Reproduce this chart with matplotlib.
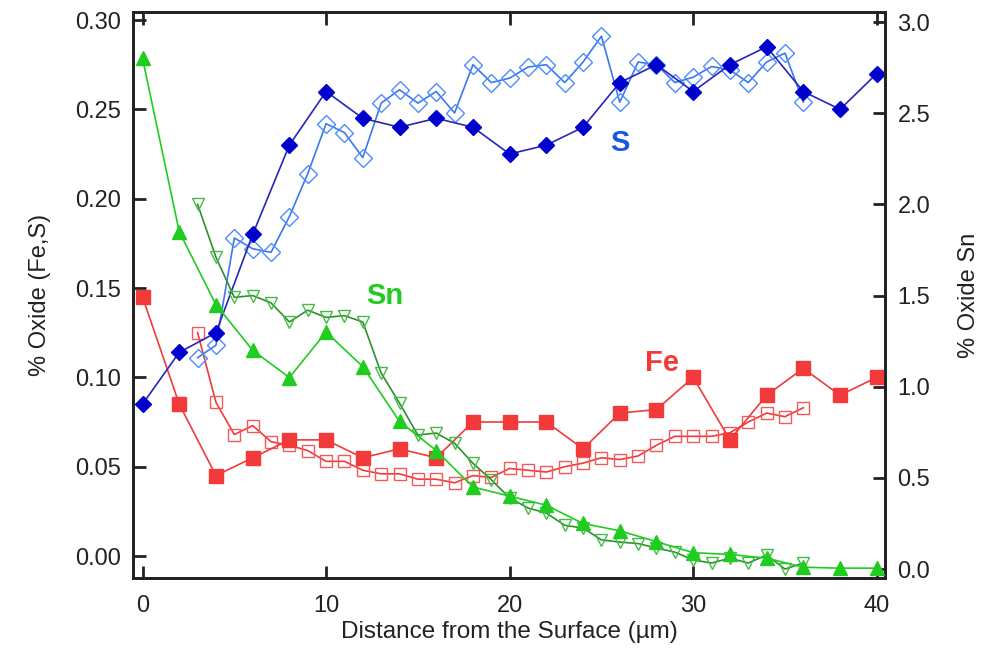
import matplotlib
matplotlib.use("Agg")
import matplotlib.pyplot as plt

plt.rcParams['font.family'] = ['Liberation Sans', 'DejaVu Sans']

# ---- data ----
x_even = [0, 2, 4, 6, 8, 10, 12, 14, 16, 18, 20, 22, 24, 26, 28, 30, 32, 34, 36, 38, 40]
x_fine = list(range(3, 37))

fe_filled = [0.145, 0.085, 0.045, 0.055, 0.065, 0.065, 0.055, 0.060, 0.055, 0.075, 0.075,
             0.075, 0.060, 0.080, 0.082, 0.100, 0.065, 0.090, 0.105, 0.090, 0.100]
s_filled = [0.085, 0.114, 0.125, 0.180, 0.230, 0.260, 0.245, 0.240, 0.245, 0.240, 0.225,
            0.230, 0.240, 0.265, 0.275, 0.260, 0.275, 0.285, 0.260, 0.250, 0.270]
sn_filled = [2.80, 1.85, 1.45, 1.20, 1.05, 1.30, 1.11, 0.81, 0.65, 0.45, 0.40,
             0.35, 0.25, 0.21, 0.15, 0.09, 0.08, 0.06, 0.01, 0.005, 0.005]

fe_open = [0.125, 0.086, 0.068, 0.073, 0.064, 0.062, 0.059, 0.053, 0.053, 0.048, 0.046,
           0.046, 0.043, 0.043, 0.041, 0.045, 0.044, 0.049, 0.048, 0.047, 0.050, 0.052,
           0.055, 0.054, 0.056, 0.062, 0.067, 0.067, 0.067, 0.069, 0.075, 0.080, 0.078, 0.083]
s_open = [0.111, 0.118, 0.178, 0.172, 0.170, 0.190, 0.214, 0.242, 0.237, 0.223, 0.2535,
          0.261, 0.2535, 0.260, 0.248, 0.275, 0.265, 0.2675, 0.2737, 0.275, 0.265, 0.2765,
          0.291, 0.254, 0.2765, 0.275, 0.265, 0.268, 0.274, 0.272, 0.265, 0.2765, 0.2815, 0.254]
sn_open = [2.00, 1.71, 1.49, 1.50, 1.46, 1.355, 1.42, 1.38, 1.39, 1.355, 1.075,
           0.91, 0.735, 0.746, 0.69, 0.58, 0.49, 0.39, 0.335, 0.307, 0.24, 0.225,
           0.16, 0.148, 0.14, 0.115, 0.093, 0.05, 0.033, 0.06, 0.033, 0.077, 0.0, 0.033]

left_ticks = [0.00, 0.05, 0.10, 0.15, 0.20, 0.25, 0.30]
right_ticks = [0.0, 0.5, 1.0, 1.5, 2.0, 2.5, 3.0]
x_ticks = [0, 10, 20, 30, 40]

# ---- colours ----
fe_c = '#f23a3a'
fe_open_c = '#f25a5a'
s_c = '#0000cc'
s_line = '#2626b8'
s_open_c = '#4d8cff'
s_open_line = '#3a78f2'
sn_c = '#1fcc1f'
sn_open_c = '#44bb44'
sn_open_line = '#2e8f2e'
txt_c = '#222222'

fig = plt.figure(figsize=(9.96, 6.56), dpi=100)
ax = fig.add_axes([133/996, 1-578/656, (885-133)/996, (578-12)/656])
ax2 = ax.twinx()

lw = 1.2
ax.plot(x_fine, fe_open, color=fe_c, lw=lw, marker='s', ms=8, mfc='none', mec=fe_open_c, mew=1.0, zorder=3)
ax.plot(x_even, fe_filled, color=fe_c, lw=lw, marker='s', ms=9.5, mfc=fe_c, mec=fe_c, zorder=4)
ax.plot(x_fine, s_open, color=s_open_line, lw=lw, marker='D', ms=9, mfc='none', mec=s_open_c, mew=1.0, zorder=3)
ax.plot(x_even, s_filled, color=s_line, lw=lw, marker='D', ms=8.5, mfc=s_c, mec=s_c, zorder=4)

ax2.plot(x_fine, sn_open, color=sn_open_line, lw=lw, marker='v', ms=8.5, mfc='none', mec=sn_open_c, mew=1.0, zorder=3)
ax2.plot(x_even, sn_filled, color=sn_c, lw=lw, marker='^', ms=10, mfc=sn_c, mec=sn_c, zorder=4)

ax.set_xlim(-0.52, 40.45)
ax.set_ylim(-0.0123, 0.3045)
ax2.set_ylim(-0.049, 3.055)

ax.set_xticks(x_ticks)
ax.set_yticks(left_ticks)
ax.set_yticklabels([f"{v:.2f}" for v in left_ticks])
ax2.set_yticks(right_ticks)
ax2.set_yticklabels([f"{v:.1f}" for v in right_ticks])

ax.tick_params(axis='x', direction='in', length=9, width=2, top=True, labelsize=17,
               pad=12, colors=txt_c)
ax.tick_params(axis='y', direction='in', length=9, width=2, right=False, labelsize=17,
               pad=9, colors=txt_c)
ax2.tick_params(axis='y', direction='in', length=9, width=2, labelsize=17, pad=9, colors=txt_c)

for a in (ax, ax2):
    for sp in a.spines.values():
        sp.set_linewidth(2.0)
        sp.set_color(txt_c)

ax.set_xlabel('Distance from the Surface (\u00b5m)', fontsize=17.5, color=txt_c, labelpad=3)
ax.set_ylabel('% Oxide (Fe,S)', fontsize=17, color=txt_c, labelpad=17)
ax2.set_ylabel('% Oxide Sn', fontsize=17, color=txt_c, labelpad=20)

ax.text(26.0, 0.231, 'S', color='#1a55e6', fontsize=21, fontweight='bold', ha='center', va='center')
ax.text(13.2, 0.1455, 'Sn', color=sn_c, fontsize=21, fontweight='bold', ha='center', va='center')
ax.text(28.3, 0.108, 'Fe', color=fe_c, fontsize=21, fontweight='bold', ha='center', va='center')

fig.savefig('out.png', dpi=100)
